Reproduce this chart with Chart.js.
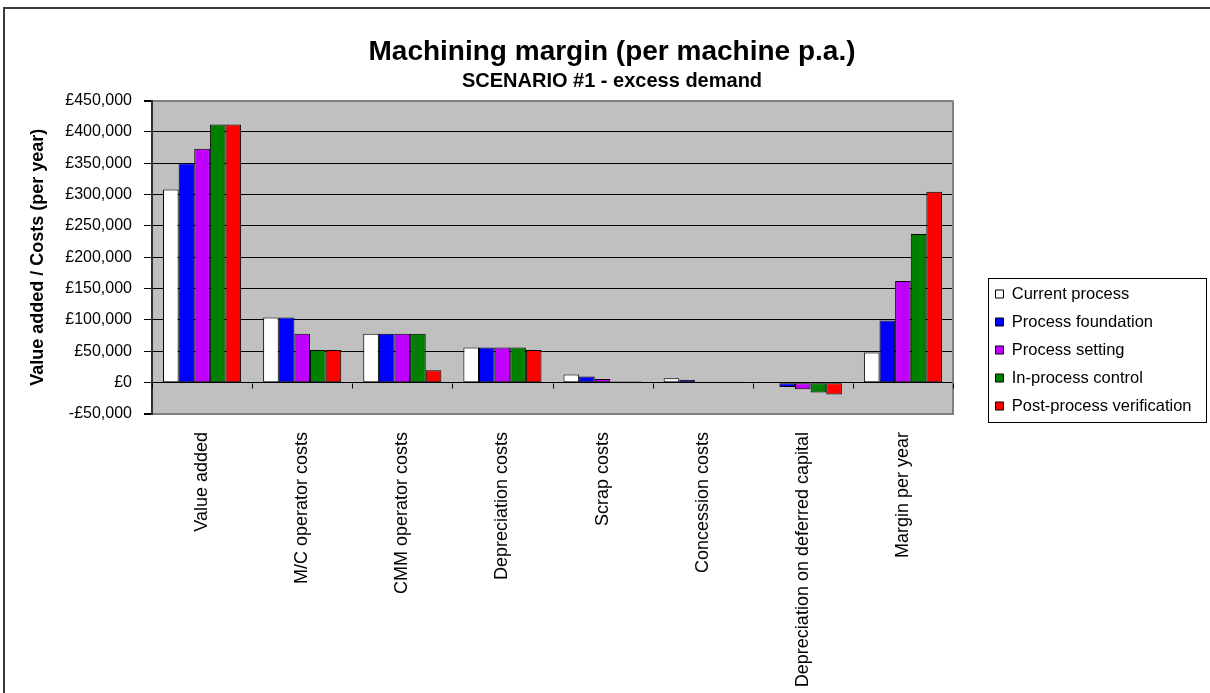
<!DOCTYPE html>
<html>
<head>
<meta charset="utf-8">
<title>Machining margin</title>
<script src="https://cdn.jsdelivr.net/npm/chart.js@4"></script>
<style>
  html, body { margin: 0; padding: 0; background: #fff; overflow: hidden; }
  #frame { position: absolute; left: 3px; top: 7px; width: 1300px; height: 800px; border-left: 2px solid #3a3a3a; border-top: 2px solid #3a3a3a; }
  #reportChart { position: absolute; left: 0; top: 0; }
</style>
</head>
<body>
<div id="frame"></div>
<canvas id="reportChart" width="1210" height="700"></canvas>
<script>
// categories and series
const categories = [
  "Value added",
  "M/C operator costs",
  "CMM operator costs",
  "Depreciation costs",
  "Scrap costs",
  "Concession costs",
  "Depreciation on deferred capital",
  "Margin per year",
]
const currentProcess = [308000, 104000, 78000, 56000, 13000, 7000, 0, 48000]
const processFoundation = [350000, 104000, 78000, 56000, 10000, 4500, -7000, 99000]
const processSetting = [373000, 78000, 78000, 56000, 6000, 1500, -10700, 162000]
const inProcessControl = [412000, 52000, 78000, 56000, 2000, 1500, -15500, 237000]
const postProcessVerification = [412000, 52000, 19600, 52000, 2000, 1500, -19000, 304500]

const yMin = -50000
const yMax = 450000
const yStep = 50000

document.addEventListener("DOMContentLoaded", () => {
  const reportChart = document.getElementById("reportChart")

  Chart.defaults.font.family = '"Liberation Sans", Arial, sans-serif'
  Chart.defaults.color = "#000"

  const makeSet = (label, data, color) => ({
    label: label,
    data: data,
    backgroundColor: color,
    borderColor: "#000",
    borderWidth: 1,
    borderSkipped: false,
    categoryPercentage: 0.78,
    barPercentage: 1.0,
    xAxisID: "x",
    yAxisID: "y",
  })

  // grey plot background, right edge, small category ticks on the zero line, legend frame
  const plotDecor = {
    id: "plotDecor",
    beforeDraw(chart) {
      const { ctx, chartArea } = chart
      ctx.save()
      ctx.fillStyle = "#C0C0C0"
      ctx.fillRect(chartArea.left, chartArea.top, chartArea.right - chartArea.left, chartArea.bottom - chartArea.top)
      ctx.restore()
    },
    afterDraw(chart) {
      const { ctx, chartArea, scales, legend } = chart
      ctx.save()
      ctx.strokeStyle = "#808080"
      ctx.lineWidth = 2
      ctx.beginPath()
      ctx.moveTo(chartArea.right, chartArea.top)
      ctx.lineTo(chartArea.right, chartArea.bottom)
      ctx.stroke()

      const zeroY = Math.round(scales.y.getPixelForValue(0)) + 0.5
      ctx.strokeStyle = "#000"
      ctx.lineWidth = 1
      ctx.beginPath()
      for (let i = 0; i <= categories.length; i++) {
        const x = Math.round(scales.x.getPixelForValue(i - 0.5)) + 0.5
        ctx.moveTo(x, zeroY)
        ctx.lineTo(x, zeroY + 5)
      }
      ctx.stroke()

      if (legend && legend.legendHitBoxes.length) {
        const boxes = legend.legendHitBoxes
        const last = boxes[boxes.length - 1]
        const top = boxes[0].top - 8
        const bottom = last.top + last.height + 7
        const left = boxes[0].left - 8
        const right = Math.max(...boxes.map((b) => b.left + b.width)) + 14
        ctx.strokeStyle = "#000"
        ctx.lineWidth = 1
        ctx.strokeRect(Math.round(left) + 0.5, Math.round(top) + 0.5, Math.round(right - left), Math.round(bottom - top))
      }
      ctx.restore()
    },
  }

  const chart = new Chart(reportChart, {
    type: "bar",
    data: {
      labels: categories,
      datasets: [
        makeSet("Current process", currentProcess, "#FFFFFF"),
        makeSet("Process foundation", processFoundation, "#0000FF"),
        makeSet("Process setting", processSetting, "#BF00FF"),
        makeSet("In-process control", inProcessControl, "#008000"),
        makeSet("Post-process verification", postProcessVerification, "#FF0000"),
      ],
    },
    plugins: [plotDecor],
    options: {
      responsive: false,
      animation: false,
      devicePixelRatio: 1,
      layout: { padding: { left: 14, right: 0, top: 0, bottom: 0 } },
      plugins: {
        title: {
          display: true,
          text: "Machining margin (per machine p.a.)",
          font: { size: 28, weight: "bold" },
          padding: { top: 35, bottom: 0 },
        },
        subtitle: {
          display: true,
          text: "SCENARIO #1 - excess demand",
          font: { size: 20, weight: "bold" },
          color: "#000",
          padding: { top: 1, bottom: 7 },
        },
        legend: {
          position: "right",
          fullSize: true,
          align: "center",
          maxWidth: 300,
          labels: {
            boxWidth: 8,
            boxHeight: 8,
            padding: 11.5,
            font: { size: 16.5 },
            color: "#000",
          },
        },
        tooltip: { enabled: false },
      },
      scales: {
        x: {
          position: "bottom",
          grid: { display: false, drawTicks: false },
          border: { display: true, color: "#808080", width: 2 },
          ticks: {
            autoSkip: false,
            maxRotation: 90,
            minRotation: 90,
            padding: 18,
            font: { size: 18 },
            color: "#000",
          },
          afterFit: (scale) => { scale.height = 286 },
        },
        y: {
          position: "left",
          min: yMin,
          max: yMax,
          ticks: {
            stepSize: yStep,
            padding: 12,
            font: { size: 16 },
            color: "#000",
            callback: (v) => (v < 0 ? "-£" : "£") + Math.abs(v).toLocaleString("en-GB"),
          },
          grid: {
            color: (c) => (c.tick && (c.tick.value === yMax || c.tick.value === yMin) ? "#808080" : "#000"),
            lineWidth: (c) => (c.tick && (c.tick.value === yMax || c.tick.value === yMin) ? 2 : 1),
            tickColor: "#000",
            tickLength: 8,
          },
          border: { display: true, color: "#303030", width: 2 },
          title: {
            display: true,
            text: "Value added / Costs (per year)",
            font: { size: 18, weight: "bold" },
            color: "#000",
            padding: { top: 13, bottom: 0 },
          },
          afterFit: (scale) => { scale.width = 138 },
        },
        gapR: {
          type: "linear",
          position: "right",
          display: true,
          weight: 0,
          grid: { display: false },
          border: { display: false },
          ticks: { display: false },
          afterFit: (scale) => { scale.width = 31 },
        },
        padR: {
          type: "linear",
          position: "right",
          display: true,
          weight: 2000,
          grid: { display: false },
          border: { display: false },
          ticks: { display: false },
          afterFit: (scale) => {
            const lw = scale.chart.legend ? scale.chart.legend.width : 210
            scale.width = Math.max(0, 1210 - 984 - lw)
          },
        },
      },
    },
  })
})
</script>
</body>
</html>
